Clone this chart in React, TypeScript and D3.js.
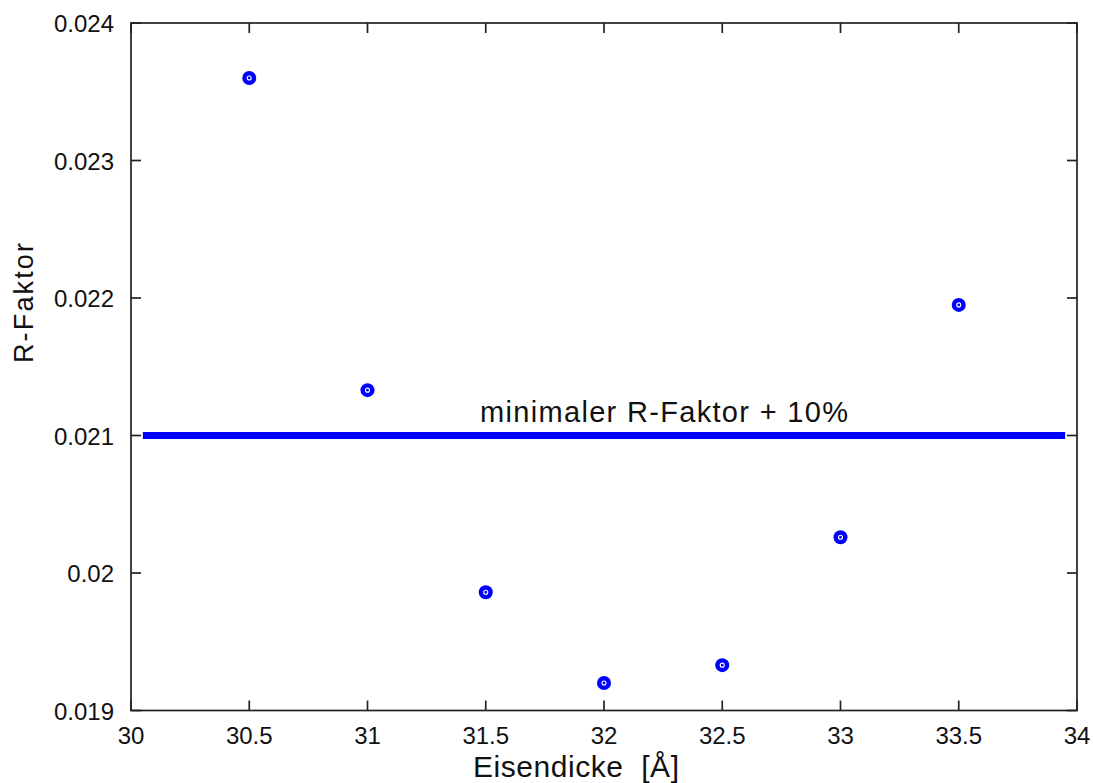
import React from "react";
import * as d3 from "d3";

const thickness = [30.5, 31, 31.5, 32, 32.5, 33, 33.5];
const rFactor = [0.0236, 0.02133, 0.01986, 0.0192, 0.01933, 0.02026, 0.02195];
const thresholdValue = 0.021;
const thresholdRange = [30.05, 33.95];
const xTicks = [30, 30.5, 31, 31.5, 32, 32.5, 33, 33.5, 34];
const yTicks = [0.019, 0.02, 0.021, 0.022, 0.023, 0.024];
const xTickLabels = ["30", "30.5", "31", "31.5", "32", "32.5", "33", "33.5", "34"];
const yTickLabels = ["0.019", "0.02", "0.021", "0.022", "0.023", "0.024"];

const W = 1093;
const H = 783;
const L = 131, R = 1077, T = 23, B = 710.5;
const font = "'Liberation Sans', Arial, Helvetica, sans-serif";

export default function App() {
  const x = d3.scaleLinear().domain([30, 34]).range([L, R]);
  const y = d3.scaleLinear().domain([0.019, 0.024]).range([B, T]);
  const axisColor = "#222";
  const blue = "#0000ff";
  const line = d3.line<number>().x((d) => x(d)).y(() => y(thresholdValue));
  return (
    <svg width={W} height={H} style={{ position: "absolute", left: 0, top: 0, background: "#fff" }}>
      <rect x={0} y={0} width={W} height={H} fill="#fff" />
      <path d={line(thresholdRange) || ""} stroke={blue} strokeWidth={7} fill="none" />
      {thickness.map((t, i) => (
        <g key={i}>
          <circle cx={x(t)} cy={y(rFactor[i])} r={7} fill={blue} />
          <circle cx={x(t)} cy={y(rFactor[i])} r={2} fill="none" stroke="#fff" strokeWidth={1.1} />
        </g>
      ))}
      <rect x={L} y={T} width={R - L} height={B - T} fill="none" stroke={axisColor} strokeWidth={1.7} />
      {xTicks.map((v, i) => (
        <g key={"x" + i}>
          <line x1={x(v)} x2={x(v)} y1={B} y2={B - 10} stroke={axisColor} strokeWidth={1.7} />
          <line x1={x(v)} x2={x(v)} y1={T} y2={T + 10} stroke={axisColor} strokeWidth={1.7} />
          <text x={x(v)} y={744} textAnchor="middle" fontFamily={font} fontSize={24} fill="#111">
            {xTickLabels[i]}
          </text>
        </g>
      ))}
      {yTicks.map((v, i) => (
        <g key={"y" + i}>
          <line x1={L} x2={L + 10} y1={y(v)} y2={y(v)} stroke={axisColor} strokeWidth={1.7} />
          <line x1={R} x2={R - 10} y1={y(v)} y2={y(v)} stroke={axisColor} strokeWidth={1.7} />
          <text x={114} y={y(v) + 9} textAnchor="end" fontFamily={font} fontSize={24} fill="#111">
            {yTickLabels[i]}
          </text>
        </g>
      ))}
      <text x={480} y={422} fontFamily={font} fontSize={29} textLength={368} lengthAdjust="spacing" fill="#111">
        minimaler R-Faktor + 10%
      </text>
      <text x={473} y={777} fontFamily={font} fontSize={30} textLength={206} lengthAdjust="spacing" fill="#111" style={{ whiteSpace: "pre" }}>
        {"Eisendicke  [Å]"}
      </text>
      <text
        transform={`translate(33,363) rotate(-90)`}
        fontFamily={font}
        fontSize={27}
        textLength={120}
        lengthAdjust="spacing"
        fill="#111"
      >
        R-Faktor
      </text>
    </svg>
  );
}
